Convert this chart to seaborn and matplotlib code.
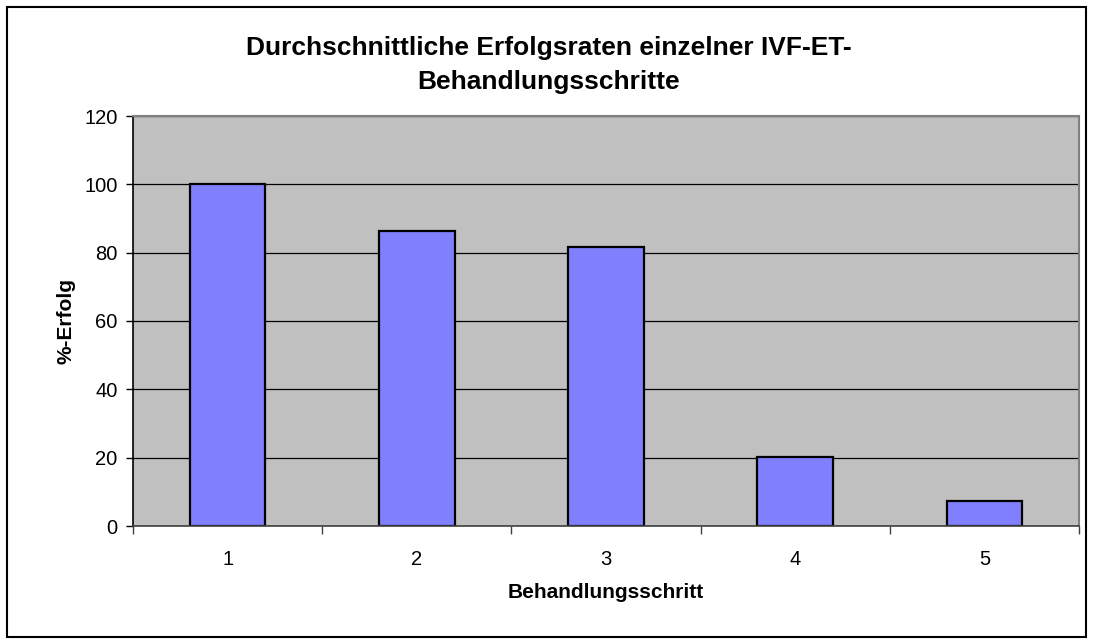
import numpy as np
import pandas as pd
import matplotlib
matplotlib.use('Agg')
import matplotlib.pyplot as plt
import seaborn as sns
import matplotlib.patches as patches
from matplotlib.ticker import FixedLocator

# Werte
schritte = ['1', '2', '3', '4', '5']
erfolg = [100, 86.3, 81.8, 20.3, 7.4]

df = pd.DataFrame({'Behandlungsschritt': schritte, 'Erfolg': erfolg})

sns.set_style('white')
plt.rcParams['font.family'] = ['Liberation Sans', 'DejaVu Sans']
plt.rcParams['text.color'] = 'black'
plt.rcParams['axes.labelcolor'] = 'black'
plt.rcParams['xtick.color'] = 'black'
plt.rcParams['ytick.color'] = 'black'

fig = plt.figure(figsize=(10.93, 6.44), dpi=100)
ax = fig.add_axes([133 / 1093, 118 / 644, (1079 - 133) / 1093, (526 - 116) / 644])

ax.set_facecolor('#C0C0C0')
ax.set_axisbelow(True)
ax.yaxis.grid(True, color='black', linewidth=0.9)
ax.xaxis.grid(False)

sns.barplot(data=df, x='Behandlungsschritt', y='Erfolg', color='#8080FF',
            saturation=1, width=0.40, edgecolor='black', linewidth=1.6, ax=ax)

ax.set_xlim(-0.5, 4.5)
ax.set_ylim(0, 120)
ax.set_yticks(range(0, 121, 20))

# x ticks between the categories, labels in the middle
ax.xaxis.set_minor_locator(FixedLocator(np.arange(-0.5, 5, 1)))
ax.tick_params(axis='x', which='major', bottom=True, length=0, pad=17, labelsize=14.5)
ax.tick_params(axis='x', which='minor', bottom=True, length=6, width=1, color='#404040', direction='out')
ax.tick_params(axis='y', left=True, length=5, width=1, color='black', direction='out', pad=6, labelsize=14.5)

for s in ['top', 'right']:
    ax.spines[s].set_color('#808080')
    ax.spines[s].set_linewidth(1.5)
ax.spines['left'].set_color('black')
ax.spines['left'].set_linewidth(1.2)
ax.spines['bottom'].set_color('#404040')
ax.spines['bottom'].set_linewidth(1.2)

ax.set_xlabel('Behandlungsschritt', fontsize=15, fontweight='bold', va='center')
ax.set_ylabel('%-Erfolg', fontsize=15, fontweight='bold', va='center', ha='center')
ax.xaxis.set_label_coords(0.5, (526 - 593) / 410)
ax.yaxis.set_label_coords((66 - 133) / 946, 0.5)

fig.text(549 / 1093, 1 - 65 / 644, 'Durchschnittliche Erfolgsraten einzelner IVF-ET-\nBehandlungsschritte',
         ha='center', va='center', fontsize=19, fontweight='bold', linespacing=1.5)

# Rahmen um das ganze Diagramm
rahmen = patches.Rectangle((7 / 1093, 7 / 644), 1079 / 1093, 630 / 644, transform=fig.transFigure,
                           fill=False, edgecolor='black', linewidth=1.5)
fig.patches.append(rahmen)

fig.savefig('out.png', dpi=100, facecolor='white')
